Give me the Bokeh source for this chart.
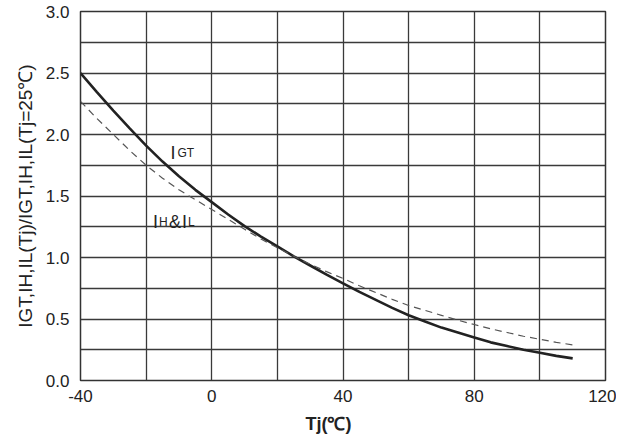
from bokeh.plotting import figure
from bokeh.models import Range1d, FixedTicker, Label, Title
from bokeh.embed import file_html
from bokeh.resources import INLINE

# Data
tj = [-40, -35, -30, -25, -20, -15, -10, -5, 0, 5, 10, 15, 20, 25, 30, 35,
      40, 45, 50, 55, 60, 65, 70, 75, 80, 85, 90, 95, 100, 105, 110]
igt = [2.50, 2.345, 2.195, 2.05, 1.91, 1.78, 1.66, 1.55, 1.45, 1.35, 1.255, 1.17, 1.09, 1.01, 0.935, 0.86,
       0.79, 0.72, 0.655, 0.59, 0.53, 0.48, 0.43, 0.39, 0.35, 0.31, 0.28, 0.25, 0.225, 0.20, 0.18]
ih_il = [2.27, 2.13, 2.00, 1.87, 1.75, 1.645, 1.55, 1.47, 1.39, 1.31, 1.23, 1.15, 1.08, 1.01, 0.945, 0.885,
         0.83, 0.77, 0.715, 0.66, 0.61, 0.57, 0.53, 0.49, 0.455, 0.42, 0.39, 0.36, 0.335, 0.31, 0.29]

x_ticks = [-40, 0, 40, 80, 120]
x_tick_labels = ["-40", "0", "40", "80", "120"]
x_grid = [-40, -20, 0, 20, 40, 60, 80, 100, 120]
y_ticks = [0.0, 0.5, 1.0, 1.5, 2.0, 2.5, 3.0]
y_grid = [0.0, 0.25, 0.5, 0.75, 1.0, 1.25, 1.5, 1.75, 2.0, 2.25, 2.5, 2.75, 3.0]

FONT = "Liberation Sans"
INK = "#222222"

p = figure(width=616, height=440, x_range=Range1d(-40, 120), y_range=Range1d(0, 3),
           output_backend="svg", toolbar_location=None,
           min_border_left=80, min_border_right=11, min_border_top=11, min_border_bottom=10)

p.outline_line_color = "#333333"
p.outline_line_width = 1.5

p.xaxis.ticker = FixedTicker(ticks=x_ticks)
p.yaxis.ticker = FixedTicker(ticks=y_ticks)
p.xgrid.ticker = FixedTicker(ticks=x_grid)
p.ygrid.ticker = FixedTicker(ticks=y_grid)
for g in (p.xgrid, p.ygrid):
    g.grid_line_color = "#3a3a3a"
    g.grid_line_width = 1.3
    g.grid_line_alpha = 1.0

p.xaxis.major_label_overrides = dict(zip(x_ticks, x_tick_labels))
p.yaxis.major_label_overrides = {t: f"{t:.1f}" for t in y_ticks}
for ax in (p.xaxis, p.yaxis):
    ax.axis_line_color = None
    ax.major_tick_line_color = None
    ax.minor_tick_line_color = None
    ax.major_label_text_font = FONT
    ax.major_label_text_font_size = "17px"
    ax.major_label_text_color = INK
    ax.major_label_standoff = 5
p.xaxis.major_label_standoff = 3

p.yaxis.axis_label = "IGT,IH,IL(Tj)/IGT,IH,IL(Tj=25℃)"
p.yaxis.axis_label_text_font = FONT
p.yaxis.axis_label_text_font_size = "19px"
p.yaxis.axis_label_text_font_style = "normal"
p.yaxis.axis_label_text_color = INK
p.yaxis.axis_label_standoff = 7

# x axis title below the axis, placed a little left of centre like the reference
p.add_layout(Title(text="Tj(℃)", align="left", offset=225, text_font=FONT,
                   text_font_size="18px", text_font_style="bold", text_color=INK,
                   standoff=14), "below")

p.line(tj, igt, line_color="#222222", line_width=2.6)
p.line(tj, ih_il, line_color="#555555", line_width=1.2, line_dash="7 5")

def lab(x, y, text, size, dx=0):
    p.add_layout(Label(x=x, y=y, x_offset=dx, text=text, text_font=FONT,
                       text_font_size=size, text_color=INK, text_baseline="alphabetic"))

# curve labels
lab(-12.6, 1.846, "I", "18px")
lab(-12.6, 1.846, "GT", "12px", dx=7)
lab(-17.9, 1.29, "I", "18px")
lab(-17.9, 1.29, "H", "12px", dx=6)
lab(-17.9, 1.29, "&", "18px", dx=16)
lab(-17.9, 1.29, "I", "18px", dx=29)
lab(-17.9, 1.29, "L", "12px", dx=35)

open("out.html", "w").write(file_html(p, INLINE))
